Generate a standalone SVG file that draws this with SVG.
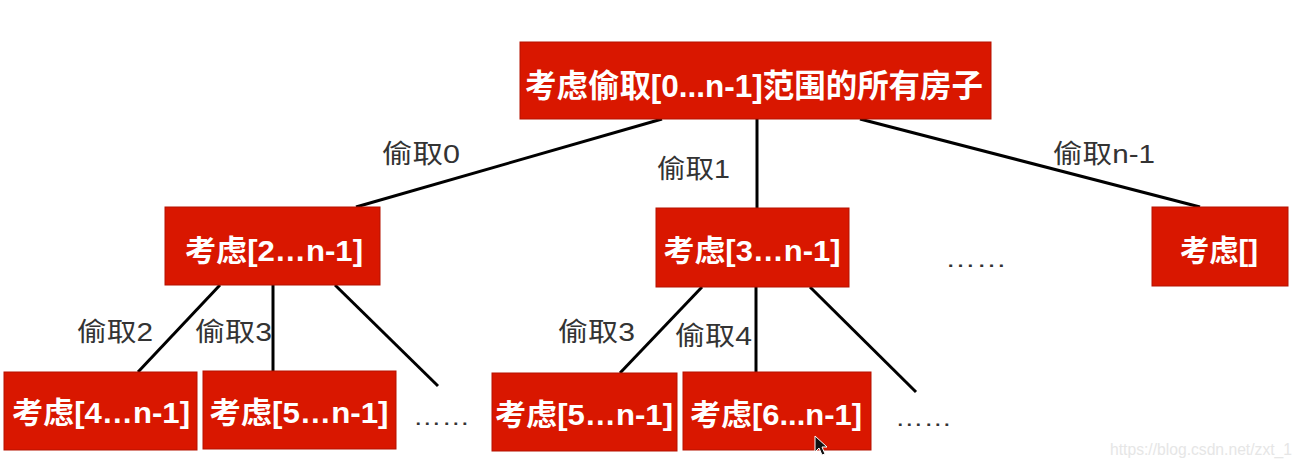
<svg xmlns="http://www.w3.org/2000/svg" width="1300" height="468" viewBox="0 0 1300 468">
<style>
.box{fill:#d91700;stroke:#b51200;stroke-width:1}
.nt{fill:#ffffff;font-family:"Liberation Sans","Noto Sans CJK SC",sans-serif;font-weight:bold;text-anchor:middle}
.lb{fill:#333333;font-family:"Liberation Sans","Noto Sans CJK SC",sans-serif;font-size:26px}
.dots{fill:#333333;font-family:"Liberation Sans","Noto Sans CJK SC",sans-serif;font-size:22px}
.ln{stroke:#000000;stroke-width:3;stroke-linecap:butt;fill:none}
</style>
<rect width="1300" height="468" fill="#ffffff"/>
<g id="connectors">
<line class="ln" x1="662" y1="119" x2="356" y2="207"/>
<line class="ln" x1="757" y1="119" x2="757" y2="208"/>
<line class="ln" x1="860" y1="119" x2="1200" y2="207"/>
<line class="ln" x1="220" y1="285" x2="138" y2="372"/>
<line class="ln" x1="273" y1="285" x2="273" y2="371"/>
<line class="ln" x1="335" y1="285" x2="438" y2="386"/>
<line class="ln" x1="702" y1="287" x2="620" y2="373"/>
<line class="ln" x1="756" y1="287" x2="756" y2="372"/>
<line class="ln" x1="810" y1="287" x2="916" y2="392"/>
</g>
<g id="edge-labels">
<text class="lb" x="382" y="163" textLength="78" lengthAdjust="spacingAndGlyphs">偷取0</text>
<text class="lb" x="657" y="178" textLength="73" lengthAdjust="spacingAndGlyphs">偷取1</text>
<text class="lb" x="1053" y="163" textLength="102" lengthAdjust="spacingAndGlyphs">偷取n-1</text>
<text class="lb" x="77" y="341" textLength="76" lengthAdjust="spacingAndGlyphs">偷取2</text>
<text class="lb" x="195" y="341" textLength="77" lengthAdjust="spacingAndGlyphs">偷取3</text>
<text class="lb" x="558" y="341" textLength="77" lengthAdjust="spacingAndGlyphs">偷取3</text>
<text class="lb" x="675" y="345" textLength="77" lengthAdjust="spacingAndGlyphs">偷取4</text>
</g>
<g id="root">
<rect class="box" x="520" y="42" width="471" height="77"/>
<text class="nt" x="754" y="97" font-size="32" textLength="458" lengthAdjust="spacingAndGlyphs">考虑偷取[0...n-1]范围的所有房子</text>
</g>
<g id="n2">
<rect class="box" x="165" y="207" width="215" height="78"/>
<text class="nt" x="274" y="261" font-size="30" textLength="178" lengthAdjust="spacingAndGlyphs">考虑[2…n-1]</text>
</g>
<g id="n3">
<rect class="box" x="656" y="208" width="193" height="79"/>
<text class="nt" x="752" y="261" font-size="30" textLength="177" lengthAdjust="spacingAndGlyphs">考虑[3…n-1]</text>
</g>
<g id="dots-mid">
<text class="dots" x="945" y="267" textLength="62" lengthAdjust="spacingAndGlyphs">……</text>
</g>
<g id="n4">
<rect class="box" x="1152" y="207" width="136" height="79"/>
<text class="nt" x="1219" y="261" font-size="30" textLength="78" lengthAdjust="spacingAndGlyphs">考虑[]</text>
</g>
<g id="n5">
<rect class="box" x="4" y="372" width="193" height="78"/>
<text class="nt" x="101" y="423" font-size="30" textLength="178" lengthAdjust="spacingAndGlyphs">考虑[4…n-1]</text>
</g>
<g id="n6">
<rect class="box" x="203" y="371" width="193" height="78"/>
<text class="nt" x="299" y="423" font-size="30" textLength="179" lengthAdjust="spacingAndGlyphs">考虑[5…n-1]</text>
</g>
<g id="dots-left">
<text class="dots" x="413" y="425" textLength="57" lengthAdjust="spacingAndGlyphs">……</text>
</g>
<g id="n7">
<rect class="box" x="492" y="373" width="185" height="78"/>
<text class="nt" x="584" y="425" font-size="30" textLength="178" lengthAdjust="spacingAndGlyphs">考虑[5…n-1]</text>
</g>
<g id="n8">
<rect class="box" x="683" y="372" width="188" height="78"/>
<text class="nt" x="776" y="425" font-size="30" textLength="172" lengthAdjust="spacingAndGlyphs">考虑[6...n-1]</text>
</g>
<g id="dots-right">
<text class="dots" x="895" y="426" textLength="57" lengthAdjust="spacingAndGlyphs">……</text>
</g>
<path d="M815,436 L815,452 L819,448 L822,455 L825,454 L822,447 L827,447 Z" fill="#111111" stroke="#ffffff" stroke-width="1"/>
<text x="1110" y="455" fill="#e6e6e6" font-family="'Liberation Sans',Arial,sans-serif" font-size="16" textLength="182" lengthAdjust="spacingAndGlyphs">https://blog.csdn.net/zxt_1</text>
</svg>
